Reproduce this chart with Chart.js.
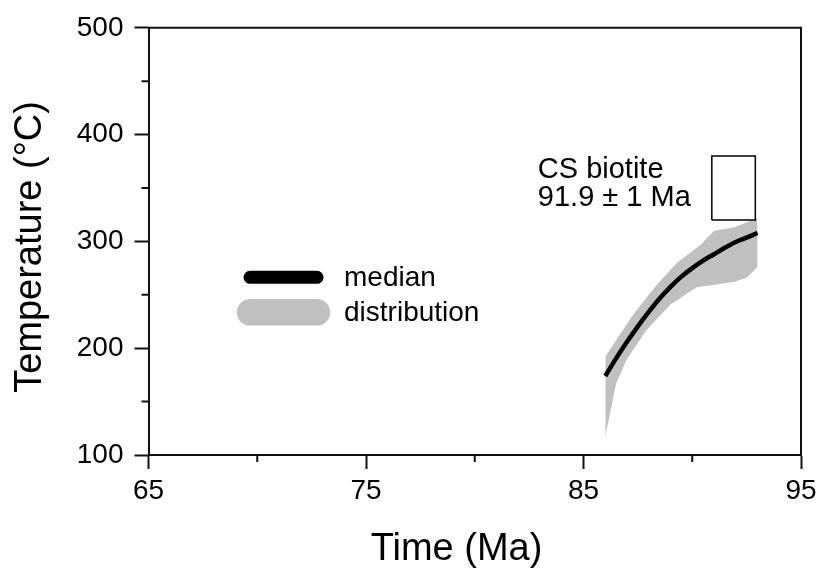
<!DOCTYPE html>
<html>
<head>
<meta charset="utf-8">
<script src="https://cdn.jsdelivr.net/npm/chart.js@4"></script>
<style>
  body { margin: 0; background: #fff; }
  canvas { display: block; }
</style>
</head>
<body>
<canvas id="coolingPath" width="822" height="571"></canvas>
<script>
// median cooling path (Ma, °C)
const medianAge = [86, 86.5, 87, 87.5, 88, 88.5, 89, 89.5, 90, 90.5, 91, 91.5, 92, 92.5, 93];
const medianTemp = [174, 190.5, 206, 220.5, 234, 246.5, 257.5, 267, 275, 282, 288, 294, 299.5, 303.5, 308];

// envelope of the path distribution
const upperAge = [86, 87.3, 88.4, 89.3, 90.4, 91, 91.9, 93];
const upperTemp = [192, 232, 260, 280, 297, 310, 313, 322];
const lowerAge = [86, 86.5, 87, 87.9, 89, 90.2, 91.9, 92.5, 93];
const lowerTemp = [117, 167, 190, 217, 241, 257, 262, 266, 276];

// biotite constraint box
const biotiteAge = 91.9;
const biotiteErr = 1;
const biotiteTemp = [320, 380];
const biotiteText = ['CS biotite', '91.9 ± 1 Ma'];

const timeTicks = [65, 75, 85, 95];
const tempTicks = [100, 200, 300, 400, 500];

const FONT = 'Arial, "Liberation Sans", sans-serif';
const AXIS = '#111';
const BAND = 'rgb(192,192,192)';

const toPoints = (xs, ys) => xs.map((x, i) => ({ x: x, y: ys[i] }));

const boxPoints = [
    { x: biotiteAge - biotiteErr, y: biotiteTemp[0] },
    { x: biotiteAge - biotiteErr, y: biotiteTemp[1] },
    { x: biotiteAge + biotiteErr, y: biotiteTemp[1] },
    { x: biotiteAge + biotiteErr, y: biotiteTemp[0] },
    { x: biotiteAge - biotiteErr, y: biotiteTemp[0] }
];

// frame, minor ticks, legend, annotation and axis titles
const decorations = {
    id: 'decorations',
    afterDraw(chart) {
        const ctx = chart.ctx;
        const a = chart.chartArea;
        const xs = chart.scales.x;
        const ys = chart.scales.y;
        ctx.save();

        // top and right edges of the frame
        ctx.strokeStyle = AXIS;
        ctx.lineWidth = 2;
        ctx.beginPath();
        ctx.moveTo(a.left, a.top);
        ctx.lineTo(a.right, a.top);
        ctx.lineTo(a.right, a.bottom);
        ctx.stroke();

        // minor ticks halfway between labelled ones
        ctx.beginPath();
        for (let i = 0; i < timeTicks.length - 1; i++) {
            const px = xs.getPixelForValue((timeTicks[i] + timeTicks[i + 1]) / 2);
            ctx.moveTo(px, a.bottom);
            ctx.lineTo(px, a.bottom + 7);
        }
        for (let i = 0; i < tempTicks.length - 1; i++) {
            const py = ys.getPixelForValue((tempTicks[i] + tempTicks[i + 1]) / 2);
            ctx.moveTo(a.left, py);
            ctx.lineTo(a.left - 7, py);
        }
        ctx.stroke();

        // legend inside the plot
        const lx0 = a.left + a.width * 0.1556;
        const lx1 = lx0 + 67;
        const rows = [
            { ds: chart.data.datasets[0], y: a.top + a.height * 0.584, w: 13 },
            { ds: chart.data.datasets[1], y: a.top + a.height * 0.666, w: 26.5 }
        ];
        ctx.lineCap = 'round';
        ctx.font = '28px ' + FONT;
        ctx.textBaseline = 'middle';
        rows.forEach(r => {
            ctx.strokeStyle = r.ds.legendColor;
            ctx.lineWidth = r.w;
            ctx.beginPath();
            ctx.moveTo(lx0, r.y);
            ctx.lineTo(lx1, r.y);
            ctx.stroke();
            ctx.fillStyle = '#000';
            ctx.fillText(r.ds.label, lx1 + 27, r.y + 1);
        });

        // annotation for the biotite box
        ctx.textBaseline = 'alphabetic';
        ctx.fillStyle = '#000';
        ctx.font = '29px ' + FONT;
        const tx = xs.getPixelForValue(biotiteAge - biotiteErr) - 174;
        ctx.fillText(biotiteText[0], tx, ys.getPixelForValue(biotiteTemp[1]) + 22);
        ctx.fillText(biotiteText[1], tx, ys.getPixelForValue(biotiteTemp[1]) + 50);

        // axis titles
        ctx.font = '38px ' + FONT;
        ctx.textAlign = 'center';
        ctx.fillText('Time (Ma)', a.left + a.width * 0.472, 560);
        ctx.translate(41, a.top + a.height * 0.513);
        ctx.rotate(-Math.PI / 2);
        ctx.fillText('Temperature (°C)', 0, 0);
        ctx.restore();
    }
};

const config = {
    type: 'line',
    data: {
        datasets: [
            {
                label: 'median',
                data: toPoints(medianAge, medianTemp),
                borderColor: '#000',
                legendColor: '#000',
                borderWidth: 4.5,
                pointRadius: 0,
                cubicInterpolationMode: 'monotone',
                fill: false
            },
            {
                label: 'distribution',
                data: toPoints(upperAge, upperTemp),
                borderWidth: 0,
                borderColor: BAND,
                backgroundColor: BAND,
                legendColor: BAND,
                pointRadius: 0,
                fill: '+1'
            },
            {
                label: 'lower',
                data: toPoints(lowerAge, lowerTemp),
                borderWidth: 0,
                borderColor: BAND,
                pointRadius: 0,
                fill: false
            },
            {
                label: 'biotite',
                data: boxPoints,
                borderColor: '#000',
                borderWidth: 1.5,
                backgroundColor: '#fff',
                pointRadius: 0,
                fill: 'shape',
                order: -1
            }
        ]
    },
    options: {
        responsive: false,
        animation: false,
        layout: { padding: { left: 0, top: 25, right: 21, bottom: 0 } },
        plugins: {
            legend: { display: false },
            tooltip: { enabled: false }
        },
        scales: {
            x: {
                type: 'linear',
                min: 65,
                max: 95,
                afterFit(scale) { scale.height = 116; },
                afterBuildTicks(scale) { scale.ticks = timeTicks.map(v => ({ value: v })); },
                ticks: {
                    font: { family: FONT, size: 28 },
                    color: '#000',
                    padding: 5,
                    maxRotation: 0
                },
                grid: {
                    drawOnChartArea: false,
                    tickLength: 14,
                    tickWidth: 2,
                    tickColor: AXIS
                },
                border: { display: true, color: AXIS, width: 2 }
            },
            y: {
                type: 'linear',
                min: 100,
                max: 500,
                afterFit(scale) { scale.width = 148.5; },
                afterBuildTicks(scale) { scale.ticks = tempTicks.map(v => ({ value: v })); },
                ticks: {
                    font: { family: FONT, size: 28 },
                    color: '#000',
                    padding: 11
                },
                grid: {
                    drawOnChartArea: false,
                    tickLength: 14,
                    tickWidth: 2,
                    tickColor: AXIS
                },
                border: { display: true, color: AXIS, width: 2 }
            }
        }
    },
    plugins: [decorations]
};

new Chart(document.getElementById('coolingPath').getContext('2d'), config);
</script>
</body>
</html>
